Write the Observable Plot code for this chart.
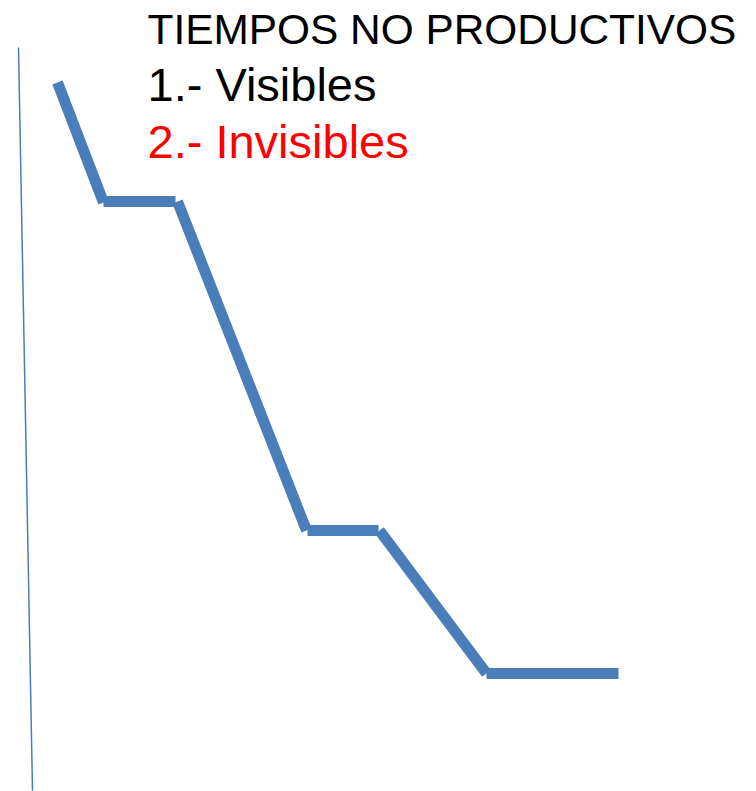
<!DOCTYPE html>
<html>
<head>
<meta charset="utf-8">
<script src="https://cdn.jsdelivr.net/npm/d3@7"></script>
<script src="https://cdn.jsdelivr.net/npm/@observablehq/plot@0.6"></script>
<style>
  html, body { margin: 0; padding: 0; background: #fff; }
  #chart svg { display: block; }
</style>
</head>
<body>
<div id="chart"></div>
<script>
// Step curve of non-productive time (arbitrary units): segment start/end
const segX1 = [5.7, 10.3, 17.7, 30.7, 37.9, 48.6];
const segX2 = [10.3, 17.5, 30.6, 37.8, 48.6, 61.8];
const segY1 = [70.9, 59.0, 59.0, 26.1, 26.1, 11.8];
const segY2 = [58.9, 59.0, 26.1, 26.1, 11.8, 11.8];

// Vertical reference axis line
const axisX = [1.8, 3.2];
const axisY = [74.4, 0.1];

// Legend texts
const labels = ["TIEMPOS NO PRODUCTIVOS", "1.- Visibles", "2.- Invisibles"];
const labelColors = ["#000000", "#000000", "#ff0000"];
const labelSizes = [42.4, 47, 47];
const labelX = [14.7, 14.7, 14.7];
const labelY = [74.8, 69.1, 63.4];

const segments = segX1.map((x1, i) => ({x1, x2: segX2[i], y1: segY1[i], y2: segY2[i]}));
const axisLine = [{x1: axisX[0], x2: axisX[1], y1: axisY[0], y2: axisY[1]}];
const legend = labels.map((t, i) => ({t, c: labelColors[i], s: labelSizes[i], x: labelX[i], y: labelY[i]}));

const chart = Plot.plot({
  width: 756,
  height: 791,
  marginTop: 0, marginRight: 0, marginBottom: 0, marginLeft: 0,
  x: {domain: [0, 75.6], axis: null},
  y: {domain: [0, 79.1], axis: null},
  style: {background: "#fff"},
  marks: [
    Plot.link(axisLine, {x1: "x1", y1: "y1", x2: "x2", y2: "y2", stroke: "#4a7ebb", strokeWidth: 1.5}),
    Plot.link(segments, {x1: "x1", y1: "y1", x2: "x2", y2: "y2", stroke: "#4a7ebb", strokeWidth: 11, strokeLinecap: "butt"}),
    ...legend.map(d => Plot.text([d], {x: "x", y: "y", text: "t", fill: "c", textAnchor: "start", lineAnchor: "bottom", fontSize: d.s, fontFamily: "'Liberation Sans', Arial, Helvetica, sans-serif"}))
  ]
});
document.getElementById("chart").appendChild(chart);
</script>
</body>
</html>
